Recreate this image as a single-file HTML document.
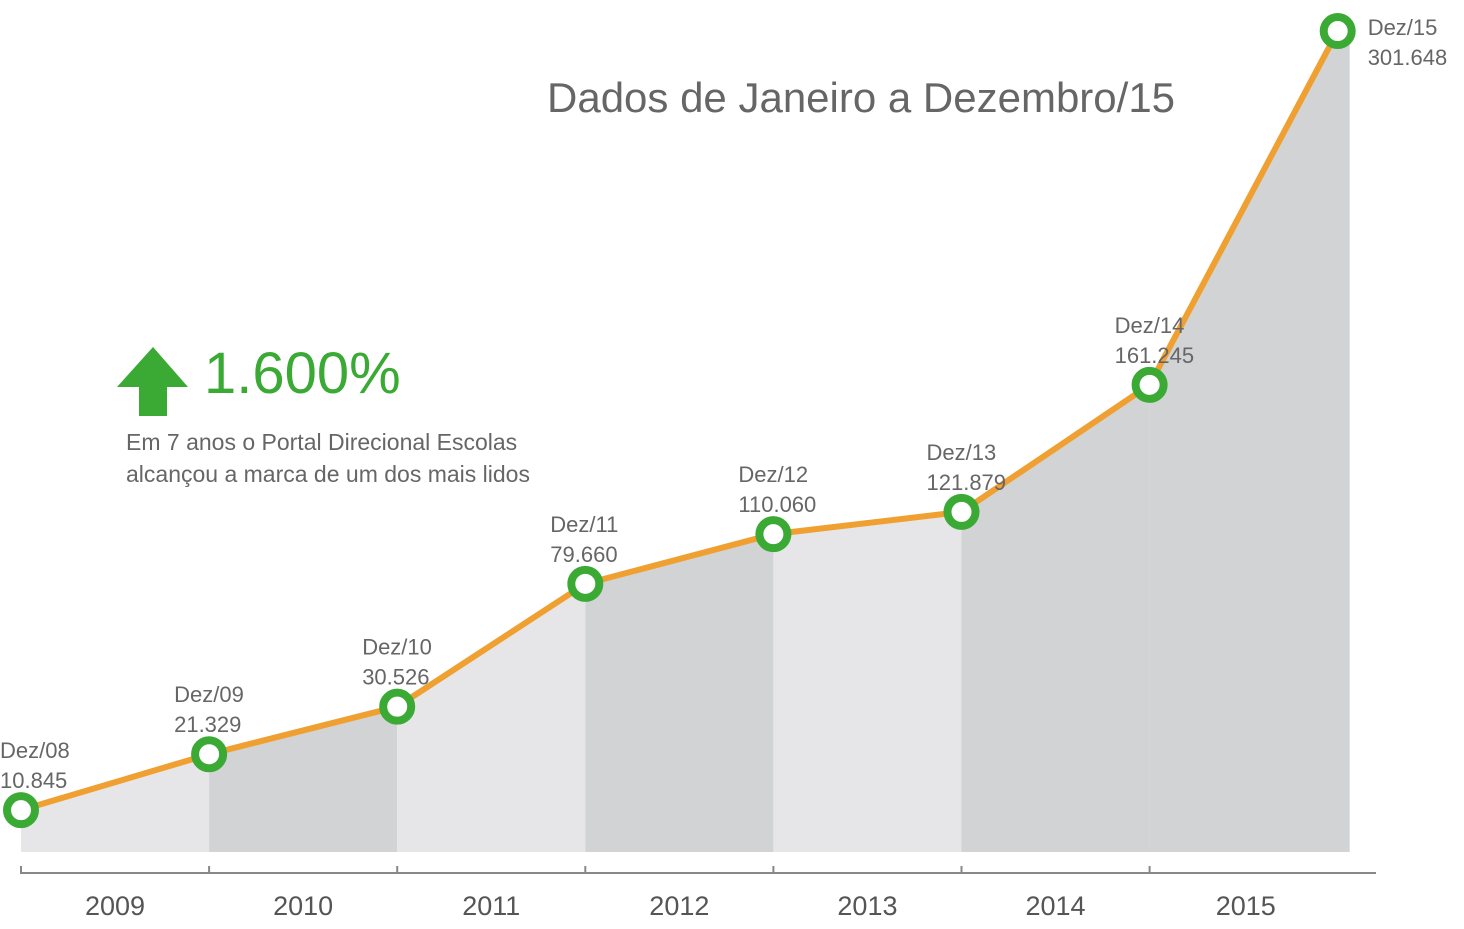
<!DOCTYPE html>
<html><head><meta charset="utf-8">
<style>
html,body{margin:0;padding:0;background:#fff;}
body{width:1464px;height:924px;overflow:hidden;font-family:"Liberation Sans",sans-serif;}
svg text{font-family:"Liberation Sans",sans-serif;}
</style></head>
<body>
<svg id="chart" width="1464" height="924" viewBox="0 0 1464 924" xmlns="http://www.w3.org/2000/svg">
  <g id="bands"></g>
  <line x1="20" y1="873" x2="1376" y2="873" stroke="#888" stroke-width="2"/>
  <g id="xticks"></g>
  <polyline id="line" fill="none" stroke="#f0a030" stroke-width="6" stroke-linejoin="round"/>
  <g id="points"></g>
  <g id="labels"></g>
  <text x="547" y="112" font-size="42" fill="#666">Dados de Janeiro a Dezembro/15</text>
  <polygon points="153,347 188,387 167,387 167,416 139,416 139,387 117,387" fill="#3aaa35"/>
  <text x="204" y="393" font-size="58" fill="#3aaa35">1.600%</text>
  <text x="126" y="450" font-size="23" fill="#666">Em 7 anos o Portal Direcional Escolas</text>
  <text x="126" y="482" font-size="23" fill="#666">alcançou a marca de um dos mais lidos</text>
</svg>
<script>
const categories = ["Dez/08","Dez/09","Dez/10","Dez/11","Dez/12","Dez/13","Dez/14","Dez/15"];
const values = [10845, 21329, 30526, 79660, 110060, 121879, 161245, 301648];
const valueLabels = ["10.845","21.329","30.526","79.660","110.060","121.879","161.245","301.648"];
const years = ["2009","2010","2011","2012","2013","2014","2015"];

const NS = "http://www.w3.org/2000/svg";
const x0 = 21, xStep = 188.1;
function xScale(i){ return x0 + i * xStep; }
// piecewise scale mimicking the hand-drawn vertical axis
const knotV = [0, 30000, 80000, 120000, 160000, 310000];
const knotY = [868, 708, 583, 518, 388, 10];
function yScale(v){
  for (let k = 1; k < knotV.length; k++) {
    if (v <= knotV[k] || k === knotV.length - 1) {
      const t = (v - knotV[k-1]) / (knotV[k] - knotV[k-1]);
      return knotY[k-1] + t * (knotY[k] - knotY[k-1]);
    }
  }
}
const baseY = 852;
const bands = document.getElementById('bands');
for (let i = 0; i < values.length - 1; i++) {
  const xa = xScale(i), xb = (i === values.length - 2) ? xScale(i+1) + 12 : xScale(i+1);
  const ya = yScale(values[i]), yb = yScale(values[i+1]);
  const p = document.createElementNS(NS, 'polygon');
  p.setAttribute('points', `${xa},${ya} ${xScale(i+1)},${yb} ${xb},${yb} ${xb},${baseY} ${xa},${baseY}`);
  p.setAttribute('fill', (i % 2 === 1 || i >= 5) ? '#d2d3d5' : '#e6e6e8');
  
  
  bands.appendChild(p);
}
document.getElementById('line').setAttribute('points', values.map((v,i)=>`${xScale(i)},${yScale(v)}`).join(' '));

const xt = document.getElementById('xticks');
for (let i = 0; i < years.length; i++) {
  const tk = document.createElementNS(NS, 'line');
  tk.setAttribute('x1', xScale(i)); tk.setAttribute('x2', xScale(i));
  tk.setAttribute('y1', 866); tk.setAttribute('y2', 873);
  tk.setAttribute('stroke', '#888'); tk.setAttribute('stroke-width', '2');
  
  
  xt.appendChild(tk);
  const t = document.createElementNS(NS, 'text');
  const cx = i === years.length - 1 ? (xScale(i) + 1342) / 2 : xScale(i) + xStep / 2;
  t.setAttribute('x', cx); t.setAttribute('y', 915);
  t.setAttribute('text-anchor', 'middle'); t.setAttribute('font-size', '27'); t.setAttribute('fill', '#555');
  t.textContent = years[i];
  
  
  xt.appendChild(t);
}

const pts = document.getElementById('points'), lbl = document.getElementById('labels');
values.forEach((v, i) => {
  const cx = xScale(i), cy = yScale(v);
  const c = document.createElementNS(NS, 'circle');
  c.setAttribute('cx', cx); c.setAttribute('cy', cy); c.setAttribute('r', 14);
  c.setAttribute('fill', '#fff'); c.setAttribute('stroke', '#3aaa35'); c.setAttribute('stroke-width', '8');
  
  
  pts.appendChild(c);
  const lx = i === 0 ? 0 : (i === values.length - 1 ? cx + 30 : cx - 35);
  const ly = i === values.length - 1 ? cy + 4 : cy - 52;
  const t1 = document.createElementNS(NS, 'text');
  t1.setAttribute('x', lx); t1.setAttribute('y', ly);
  t1.setAttribute('font-size', '22'); t1.setAttribute('fill', '#666');
  t1.textContent = categories[i];
  
  
  lbl.appendChild(t1);
  const t2 = document.createElementNS(NS, 'text');
  t2.setAttribute('x', lx); t2.setAttribute('y', ly + 30);
  t2.setAttribute('font-size', '22'); t2.setAttribute('fill', '#666');
  t2.textContent = valueLabels[i];
  
  
  lbl.appendChild(t2);
});
</script>
</body></html>
